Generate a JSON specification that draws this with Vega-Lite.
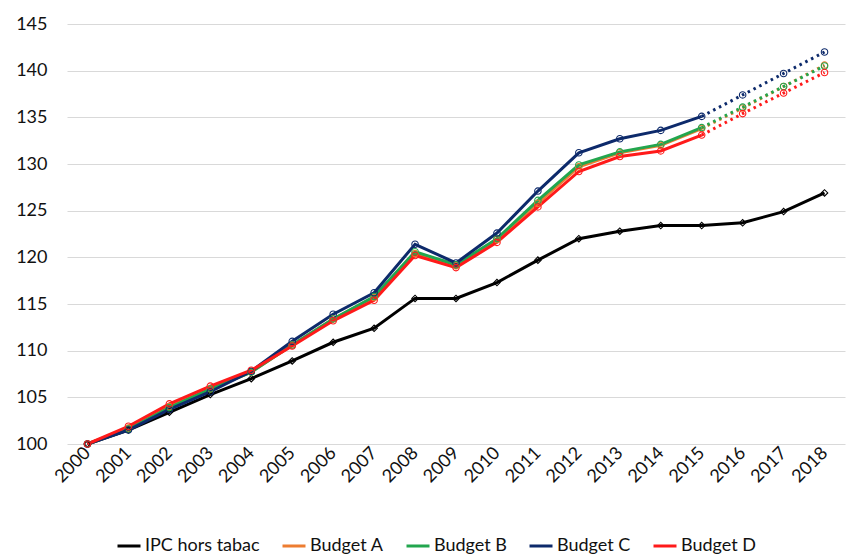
{
  "$schema": "https://vega.github.io/schema/vega-lite/v6.json",
  "autosize": "none",
  "width": 778,
  "height": 420,
  "padding": {"left": 67, "top": 24, "right": 6, "bottom": 116},
  "background": "white",
  "config": {
    "font": "Lato",
    "view": {"stroke": null},
    "axis": {"labelFont": "Lato", "labelFontSize": 18, "labelColor": "#111111"},
    "legend": {"labelFont": "Lato", "labelFontSize": 18, "labelColor": "#111111"}
  },
  "data": {
    "values": [
      {"annee": "2000", "serie": "IPC hors tabac", "valeur": 100},
      {"annee": "2001", "serie": "IPC hors tabac", "valeur": 101.5},
      {"annee": "2002", "serie": "IPC hors tabac", "valeur": 103.4},
      {"annee": "2003", "serie": "IPC hors tabac", "valeur": 105.3},
      {"annee": "2004", "serie": "IPC hors tabac", "valeur": 107.0},
      {"annee": "2005", "serie": "IPC hors tabac", "valeur": 108.9},
      {"annee": "2006", "serie": "IPC hors tabac", "valeur": 110.9},
      {"annee": "2007", "serie": "IPC hors tabac", "valeur": 112.4},
      {"annee": "2008", "serie": "IPC hors tabac", "valeur": 115.6},
      {"annee": "2009", "serie": "IPC hors tabac", "valeur": 115.6},
      {"annee": "2010", "serie": "IPC hors tabac", "valeur": 117.3},
      {"annee": "2011", "serie": "IPC hors tabac", "valeur": 119.7},
      {"annee": "2012", "serie": "IPC hors tabac", "valeur": 122.0},
      {"annee": "2013", "serie": "IPC hors tabac", "valeur": 122.8},
      {"annee": "2014", "serie": "IPC hors tabac", "valeur": 123.4},
      {"annee": "2015", "serie": "IPC hors tabac", "valeur": 123.4},
      {"annee": "2016", "serie": "IPC hors tabac", "valeur": 123.7},
      {"annee": "2017", "serie": "IPC hors tabac", "valeur": 124.9},
      {"annee": "2018", "serie": "IPC hors tabac", "valeur": 126.9},

      {"annee": "2000", "serie": "Budget A", "valeur": 100},
      {"annee": "2001", "serie": "Budget A", "valeur": 101.7},
      {"annee": "2002", "serie": "Budget A", "valeur": 104.0},
      {"annee": "2003", "serie": "Budget A", "valeur": 105.9},
      {"annee": "2004", "serie": "Budget A", "valeur": 107.7},
      {"annee": "2005", "serie": "Budget A", "valeur": 110.6},
      {"annee": "2006", "serie": "Budget A", "valeur": 113.4},
      {"annee": "2007", "serie": "Budget A", "valeur": 115.7},
      {"annee": "2008", "serie": "Budget A", "valeur": 120.4},
      {"annee": "2009", "serie": "Budget A", "valeur": 119.1},
      {"annee": "2010", "serie": "Budget A", "valeur": 121.9},
      {"annee": "2011", "serie": "Budget A", "valeur": 125.8},
      {"annee": "2012", "serie": "Budget A", "valeur": 129.7},
      {"annee": "2013", "serie": "Budget A", "valeur": 131.2},
      {"annee": "2014", "serie": "Budget A", "valeur": 132.0},
      {"annee": "2015", "serie": "Budget A", "valeur": 133.8},
      {"annee": "2016", "serie": "Budget A", "valeur": 136.0},
      {"annee": "2017", "serie": "Budget A", "valeur": 138.3},
      {"annee": "2018", "serie": "Budget A", "valeur": 140.6},

      {"annee": "2000", "serie": "Budget B", "valeur": 100},
      {"annee": "2001", "serie": "Budget B", "valeur": 101.6},
      {"annee": "2002", "serie": "Budget B", "valeur": 103.9},
      {"annee": "2003", "serie": "Budget B", "valeur": 105.9},
      {"annee": "2004", "serie": "Budget B", "valeur": 107.7},
      {"annee": "2005", "serie": "Budget B", "valeur": 110.6},
      {"annee": "2006", "serie": "Budget B", "valeur": 113.4},
      {"annee": "2007", "serie": "Budget B", "valeur": 115.8},
      {"annee": "2008", "serie": "Budget B", "valeur": 120.6},
      {"annee": "2009", "serie": "Budget B", "valeur": 119.2},
      {"annee": "2010", "serie": "Budget B", "valeur": 122.0},
      {"annee": "2011", "serie": "Budget B", "valeur": 126.1},
      {"annee": "2012", "serie": "Budget B", "valeur": 129.9},
      {"annee": "2013", "serie": "Budget B", "valeur": 131.3},
      {"annee": "2014", "serie": "Budget B", "valeur": 132.1},
      {"annee": "2015", "serie": "Budget B", "valeur": 133.9},
      {"annee": "2016", "serie": "Budget B", "valeur": 136.1},
      {"annee": "2017", "serie": "Budget B", "valeur": 138.3},
      {"annee": "2018", "serie": "Budget B", "valeur": 140.5},

      {"annee": "2000", "serie": "Budget C", "valeur": 100},
      {"annee": "2001", "serie": "Budget C", "valeur": 101.5},
      {"annee": "2002", "serie": "Budget C", "valeur": 103.7},
      {"annee": "2003", "serie": "Budget C", "valeur": 105.6},
      {"annee": "2004", "serie": "Budget C", "valeur": 107.8},
      {"annee": "2005", "serie": "Budget C", "valeur": 111.0},
      {"annee": "2006", "serie": "Budget C", "valeur": 113.9},
      {"annee": "2007", "serie": "Budget C", "valeur": 116.2},
      {"annee": "2008", "serie": "Budget C", "valeur": 121.4},
      {"annee": "2009", "serie": "Budget C", "valeur": 119.4},
      {"annee": "2010", "serie": "Budget C", "valeur": 122.6},
      {"annee": "2011", "serie": "Budget C", "valeur": 127.1},
      {"annee": "2012", "serie": "Budget C", "valeur": 131.2},
      {"annee": "2013", "serie": "Budget C", "valeur": 132.7},
      {"annee": "2014", "serie": "Budget C", "valeur": 133.6},
      {"annee": "2015", "serie": "Budget C", "valeur": 135.1},
      {"annee": "2016", "serie": "Budget C", "valeur": 137.4},
      {"annee": "2017", "serie": "Budget C", "valeur": 139.7},
      {"annee": "2018", "serie": "Budget C", "valeur": 142.0},

      {"annee": "2000", "serie": "Budget D", "valeur": 100},
      {"annee": "2001", "serie": "Budget D", "valeur": 101.9},
      {"annee": "2002", "serie": "Budget D", "valeur": 104.3},
      {"annee": "2003", "serie": "Budget D", "valeur": 106.2},
      {"annee": "2004", "serie": "Budget D", "valeur": 107.9},
      {"annee": "2005", "serie": "Budget D", "valeur": 110.5},
      {"annee": "2006", "serie": "Budget D", "valeur": 113.2},
      {"annee": "2007", "serie": "Budget D", "valeur": 115.4},
      {"annee": "2008", "serie": "Budget D", "valeur": 120.2},
      {"annee": "2009", "serie": "Budget D", "valeur": 118.9},
      {"annee": "2010", "serie": "Budget D", "valeur": 121.6},
      {"annee": "2011", "serie": "Budget D", "valeur": 125.4},
      {"annee": "2012", "serie": "Budget D", "valeur": 129.2},
      {"annee": "2013", "serie": "Budget D", "valeur": 130.8},
      {"annee": "2014", "serie": "Budget D", "valeur": 131.4},
      {"annee": "2015", "serie": "Budget D", "valeur": 133.1},
      {"annee": "2016", "serie": "Budget D", "valeur": 135.4},
      {"annee": "2017", "serie": "Budget D", "valeur": 137.6},
      {"annee": "2018", "serie": "Budget D", "valeur": 139.8}
    ]
  },
  "encoding": {
    "x": {
      "field": "annee",
      "type": "ordinal",
      "scale": {"type": "point", "padding": 0.5},
      "axis": {
        "title": null,
        "labelAngle": -45,
        "labelAlign": "right",
        "labelBaseline": "middle",
        "labelPadding": 6,
        "ticks": false,
        "domain": false,
        "grid": false
      }
    },
    "y": {
      "field": "valeur",
      "type": "quantitative",
      "scale": {"domain": [100, 145], "nice": false, "zero": false},
      "axis": {
        "title": null,
        "values": [100, 105, 110, 115, 120, 125, 130, 135, 140, 145],
        "ticks": false,
        "domain": false,
        "labelPadding": 20,
        "gridColor": "#d9d9d9",
        "gridWidth": 1.2
      }
    },
    "color": {
      "field": "serie",
      "type": "nominal",
      "sort": ["IPC hors tabac", "Budget A", "Budget B", "Budget C", "Budget D"],
      "scale": {
        "domain": ["IPC hors tabac", "Budget A", "Budget B", "Budget C", "Budget D"],
        "range": ["#000000", "#ed7d31", "#22a64e", "#0d2a6b", "#ff1a1a"]
      },
      "legend": {
        "title": null,
        "orient": "none",
        "direction": "horizontal",
        "legendX": 49,
        "legendY": 509,
        "symbolType": "stroke",
        "symbolSize": 529,
        "symbolStrokeWidth": 3,
        "symbolDash": [1, 0],
        "labelOffset": 3,
        "columnPadding": 16
      }
    },
    "order": {"field": "annee"}
  },
  "layer": [
    {
      "transform": [{"filter": "datum.serie === 'IPC hors tabac' || toNumber(datum.annee) <= 2015"}],
      "mark": {"type": "line", "strokeWidth": 3}
    },
    {
      "transform": [{"filter": "datum.serie !== 'IPC hors tabac' && toNumber(datum.annee) >= 2015"}],
      "mark": {"type": "line", "strokeWidth": 3, "strokeDash": [2.5, 4]}
    },
    {
      "mark": {"type": "point", "filled": false, "strokeWidth": 1.1, "size": 42, "opacity": 1},
      "encoding": {
        "shape": {
          "condition": {"test": "datum.serie === 'IPC hors tabac'", "value": "diamond"},
          "value": "circle"
        }
      }
    }
  ]
}
